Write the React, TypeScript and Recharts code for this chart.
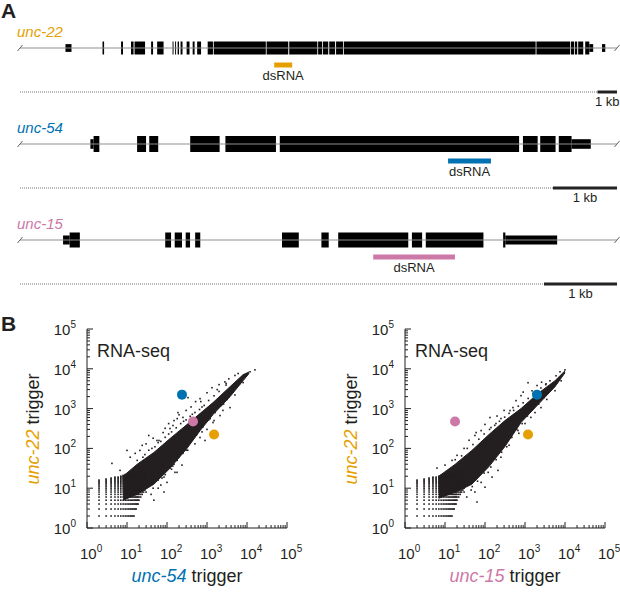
import React from "react";
import {
    ComposedChart,
    Scatter,
    Area,
    XAxis,
    YAxis,
    ReferenceArea,
    ReferenceLine,
    ReferenceDot,
} from "recharts";

const FONT = '"Liberation Sans", Arial, Helvetica, sans-serif';
const ORANGE = "#E69F00";
const BLUE = "#0072B2";
const PINK = "#CC79A7";
const INK = "#231F20";

// ---- panel A: gene models, kb from the left end of each drawn locus ----
// [start, end, coding (1) or UTR (0)]
const unc22Exons: [number, number, number][] = [
    [2.33, 2.64, 0], [4.23, 4.31, 1], [5.18, 5.28, 1], [5.69, 5.82, 1],
    [5.87, 6.41, 1], [6.72, 6.82, 1], [7.03, 7.36, 1], [7.82, 7.87, 1],
    [7.95, 8.0, 1], [8.08, 8.15, 1], [8.23, 8.33, 1], [8.54, 8.69, 1],
    [8.85, 8.95, 1], [9.08, 9.28, 1], [9.62, 9.89, 1], [9.93, 12.6, 1],
    [12.64, 13.75, 1], [13.8, 15.24, 1], [15.28, 15.48, 1], [15.52, 15.8, 1],
    [15.85, 16.15, 1], [16.2, 16.56, 1], [16.6, 26.43, 1], [26.47, 28.2, 1],
    [28.24, 28.4, 1], [28.44, 28.56, 1], [28.61, 28.87, 1], [28.97, 29.18, 1],
    [29.18, 29.38, 0], [29.83, 30.0, 0],
];
const unc22Length = 30.6;
const unc22Dsrna = [13.03, 13.95];
const unc22Scale = [29.6, 30.6];

const unc54Exons: [number, number, number][] = [
    [1.1, 1.15, 0], [1.15, 1.24, 1], [1.83, 1.97, 1], [2.02, 2.16, 1],
    [2.66, 3.12, 1], [3.21, 4.0, 1], [4.06, 7.8, 1], [7.86, 8.09, 1],
    [8.13, 8.37, 1], [8.42, 8.62, 1], [8.62, 8.92, 0],
];
const unc54Length = 9.33;
const unc54Dsrna = [6.69, 7.36];
const unc54Scale = [8.33, 9.33];

const unc15Exons: [number, number, number][] = [
    [0.59, 0.68, 0], [0.68, 0.82, 1], [1.99, 2.07, 1], [2.12, 2.22, 1],
    [2.27, 2.33, 1], [2.4, 2.47, 1], [3.59, 3.82, 1], [4.13, 4.23, 1],
    [4.36, 5.32, 1], [5.37, 5.51, 1], [5.56, 6.35, 1], [6.62, 6.65, 1],
    [6.65, 7.36, 0],
];
const unc15Length = 8.18;
const unc15Dsrna = [4.84, 5.96];
const unc15Scale = [7.18, 8.18];

// ---- panel B: read counts ----
// integer-count lattice at low expression: [x, lowest y, highest y]
const latticeCols = [
    [2, 2, 16], [3, 2, 17], [4, 2, 18], [5, 2, 19], [6, 2, 19], [7, 2, 20],
    [8, 2, 21], [9, 2, 22], [10, 2, 22], [11, 2, 22], [12, 2, 23], [13, 2, 23],
    [14, 2, 23], [15, 2, 24], [16, 3, 24], [17, 3, 24], [18, 4, 25], [19, 4, 25],
    [20, 5, 25], [22, 6, 26], [24, 7, 26], [26, 8, 26], [28, 9, 26], [30, 10, 26],
];

// dense core of the cloud
const leftCoreX = [8, 18, 47, 120, 316, 676, 1413, 3760, 7943, 11220];
const leftCoreLow = [5, 7, 12.6, 32, 100, 282, 708, 1995, 5012, 7586];
const leftCoreHigh = [20, 40, 79, 178, 398, 759, 1413, 3548, 7079, 8318];

const rightCoreX = [7, 18, 47, 126, 316, 794, 2113, 5623, 10000];
const rightCoreLow = [5.6, 7.9, 12.6, 35, 112, 447, 1259, 3548, 7943];
const rightCoreHigh = [20, 40, 89, 224, 501, 1000, 2399, 5012, 8913];

// scattered genes outside the core [x, y]
const leftOutliers = [
    [15800, 9400], [11900, 8400], [7900, 6300], [9200, 7000], [2800, 4700],
    [1330, 3350], [670, 1780], [335, 1885], [188, 794], [141, 376], [119, 316],
    [56, 158], [42, 100], [21, 89], [12, 60], [10, 89], [4.2, 42], [6.7, 28],
    [16, 75], [24, 119], [35, 211], [63, 158], [200, 700], [300, 900], [90, 320],
    [150, 500], [250, 600], [400, 1100], [520, 1500], [1000, 2500], [2000, 4000],
    [3500, 5600], [5000, 6800], [80, 250], [30, 130], [180, 560], [1800, 3000],
    [700, 1500], [110, 420], [45, 180], [3000, 4300], [6000, 7600],
    [18, 50], [25, 60], [35, 90], [50, 110], [70, 150], [90, 190], [130, 260],
    [170, 330], [220, 420], [300, 520], [380, 640], [500, 800], [650, 950],
    [850, 1200], [1100, 1600], [1500, 2100], [2000, 2700], [3000, 3900],
    [28, 70], [60, 140], [110, 230], [260, 480], [430, 720], [750, 1100],
    [84, 19], [119, 32], [178, 25], [84, 8], [47, 5], [237, 38], [237, 158],
    [316, 237], [668, 188], [1413, 447], [2113, 668], [3760, 1060], [891, 158],
    [119, 50], [158, 25], [60, 10], [100, 14], [300, 90], [500, 130], [1000, 300],
    [1500, 500], [2500, 900], [5000, 2200], [8000, 4500], [40, 7], [70, 12],
    [150, 40], [200, 60], [400, 150], [750, 260], [1200, 560], [2600, 1300],
    [30, 8], [45, 10], [60, 16], [90, 22], [130, 30], [180, 50], [250, 75],
    [330, 90], [420, 160], [550, 220], [800, 350], [1100, 520], [1600, 800],
    [2300, 1200], [3200, 1700], [4500, 2600], [6500, 4200], [75, 18], [140, 36],
];
const rightOutliers = [
    [10000, 9400], [7500, 8400], [5960, 6680], [4200, 5000], [3350, 4200],
    [1190, 4470], [794, 2113], [596, 1585], [500, 1060], [422, 891], [251, 562],
    [188, 422], [141, 335], [133, 596], [6.3, 32], [10, 38], [20, 67], [56, 211],
    [30, 100], [80, 280], [100, 400], [300, 900], [2000, 3800], [1500, 2800],
    [40, 160], [15, 50], [60, 250], [200, 650], [900, 2600], [2600, 4600],
    [18, 52], [26, 65], [36, 100], [50, 125], [70, 170], [95, 230], [130, 300],
    [175, 380], [230, 480], [310, 610], [400, 760], [520, 900], [680, 1150],
    [900, 1400], [1200, 1800], [1600, 2400], [2500, 3300], [3300, 4000],
    [2512, 1060], [1778, 794], [5623, 2818], [1000, 422], [668, 282], [447, 188],
    [316, 133], [35, 6], [56, 8], [63, 4.5], [100, 10.6], [150, 19], [211, 28],
    [80, 14], [120, 25], [250, 60], [400, 120], [3500, 1700], [8000, 5000],
    [45, 9], [700, 240], [1400, 600],
    [30, 8], [48, 11], [65, 15], [95, 24], [140, 34], [190, 52], [260, 80],
    [350, 110], [470, 190], [620, 300], [850, 420], [1150, 650], [1600, 1000],
    [2200, 1300], [3000, 1900], [4300, 3000], [6200, 4500],
];

// highlighted genes: x = trigger on the horizontal axis, y = unc-22 trigger
const leftUnc22 = [{ x: 1500, y: 224 }];
const leftUnc54 = [{ x: 237, y: 2240 }];
const leftUnc15 = [{ x: 447, y: 473 }];
const rightUnc22 = [{ x: 1190, y: 224 }];
const rightUnc54 = [{ x: 2000, y: 2240 }];
const rightUnc15 = [{ x: 17.8, y: 473 }];

const MAJOR = [1, 10, 100, 1000, 10000, 100000];
const LOG_TICKS: number[] = [];
MAJOR.forEach((m, i) => {
    LOG_TICKS.push(m);
    if (i < MAJOR.length - 1) for (let k = 2; k < 10; k++) LOG_TICKS.push(k * m);
});

const latticePoints = latticeCols.flatMap(([x, lo, hi]) => {
    const pts = [];
    for (let y = lo; y <= hi; y++) pts.push({ x, y });
    return pts;
});

const toPoints = (list: number[][]) => list.map(([x, y]) => ({ x, y }));

const isMajor = (v: number) => MAJOR.includes(v);
const power = (v: number) => Math.round(Math.log10(v));

const TickLabel = (props: any) => (
    <text
        x={props.x}
        y={props.y}
        textAnchor={props.anchor}
        fontSize={15}
        fontFamily={FONT}
        fill={INK}
    >
        10
        <tspan dy={-7} fontSize={10}>
            {power(props.v)}
        </tspan>
    </text>
);

const BottomTick = ({ x, y, payload }: any) => (
    <g>
        <line x1={x} y1={y} x2={x} y2={y - (isMajor(payload.value) ? 6 : 3)} stroke={INK} />
        {isMajor(payload.value) && (
            <TickLabel x={x - 7} y={y + 31} anchor="start" v={payload.value} />
        )}
    </g>
);
const LeftTick = ({ x, y, payload }: any) => (
    <g>
        <line x1={x} y1={y} x2={x + (isMajor(payload.value) ? 6 : 3)} y2={y} stroke={INK} />
        {isMajor(payload.value) && (
            <TickLabel x={x - 11} y={y + 6} anchor="end" v={payload.value} />
        )}
    </g>
);
const TopTick = ({ x, y, payload }: any) => (
    <line x1={x} y1={y} x2={x} y2={y + (isMajor(payload.value) ? 6 : 3)} stroke={INK} />
);
const RightTick = ({ x, y, payload }: any) => (
    <line x1={x} y1={y} x2={x - (isMajor(payload.value) ? 6 : 3)} y2={y} stroke={INK} />
);

const Speck = ({ cx, cy }: any) => (
    <rect x={cx - 0.8} y={cy - 0.8} width={1.6} height={1.6} fill={INK} />
);
const bigDot = (color: string) => ({ cx, cy }: any) => (
    <circle cx={cx} cy={cy} r={5} fill={color} />
);

function ScatterPanel({ left, coreX, coreLow, coreHigh, outliers, u22, u54, u15, xName, xColor }: any) {
    const core = coreX.map((x: number, i: number) => ({ x, band: [coreLow[i], coreHigh[i]] }));
    return (
        <div style={{ position: "absolute", left, top: 310, width: 300, height: 283 }}>
            <ComposedChart
                width={300}
                height={270}
                data={core}
                margin={{ top: 19, right: 13, bottom: 22, left: 27 }}
                style={{ overflow: "visible" }}
            >
                <XAxis
                    xAxisId="b"
                    dataKey="x"
                    type="number"
                    scale="log"
                    domain={[1, 100000]}
                    ticks={LOG_TICKS}
                    interval={0}
                    tick={<BottomTick />}
                    tickLine={false}
                    tickSize={0}
                    tickMargin={0}
                    height={30}
                    axisLine={{ stroke: INK }}
                    allowDataOverflow
                />
                <XAxis
                    xAxisId="t"
                    orientation="top"
                    type="number"
                    scale="log"
                    domain={[1, 100000]}
                    ticks={LOG_TICKS}
                    interval={0}
                    tick={<TopTick />}
                    tickLine={false}
                    tickSize={0}
                    tickMargin={0}
                    height={0}
                    axisLine={{ stroke: INK }}
                    allowDataOverflow
                />
                <YAxis
                    yAxisId="l"
                    dataKey="y"
                    type="number"
                    scale="log"
                    domain={[1, 100000]}
                    ticks={LOG_TICKS}
                    interval={0}
                    tick={<LeftTick />}
                    tickLine={false}
                    tickSize={0}
                    tickMargin={0}
                    width={60}
                    axisLine={{ stroke: INK }}
                    allowDataOverflow
                />
                <YAxis
                    yAxisId="r"
                    orientation="right"
                    type="number"
                    scale="log"
                    domain={[1, 100000]}
                    ticks={LOG_TICKS}
                    interval={0}
                    tick={<RightTick />}
                    tickLine={false}
                    tickSize={0}
                    tickMargin={0}
                    width={0}
                    axisLine={{ stroke: INK }}
                    allowDataOverflow
                />
                <Scatter xAxisId="b" yAxisId="l" data={latticePoints} shape={<Speck />} isAnimationActive={false} />
                <Area
                    xAxisId="b"
                    yAxisId="l"
                    dataKey="band"
                    type="linear"
                    fill={INK}
                    fillOpacity={1}
                    stroke={INK}
                    strokeWidth={1}
                    dot={false}
                    activeDot={false}
                    isAnimationActive={false}
                />
                <Scatter xAxisId="b" yAxisId="l" data={toPoints(outliers)} shape={<Speck />} isAnimationActive={false} />
                <Scatter xAxisId="b" yAxisId="l" data={u15} shape={bigDot(PINK)} isAnimationActive={false} />
                <Scatter xAxisId="b" yAxisId="l" data={u22} shape={bigDot(ORANGE)} isAnimationActive={false} />
                <Scatter xAxisId="b" yAxisId="l" data={u54} shape={bigDot(BLUE)} isAnimationActive={false} />
            </ComposedChart>
            <div style={{ position: "absolute", left: 97, top: 31, fontSize: 18, lineHeight: "20px" }}>RNA-seq</div>
            <div
                style={{
                    position: "absolute",
                    left: 87,
                    top: 256,
                    width: 200,
                    textAlign: "center",
                    fontSize: 18,
                    lineHeight: "20px",
                }}
            >
                <i style={{ color: xColor }}>{xName}</i> trigger
            </div>
            <div
                style={{
                    position: "absolute",
                    left: -67,
                    top: 108.5,
                    width: 200,
                    height: 20,
                    textAlign: "center",
                    fontSize: 18,
                    lineHeight: "20px",
                    transform: "rotate(-90deg)",
                }}
            >
                <i style={{ color: ORANGE }}>unc-22</i> trigger
            </div>
        </div>
    );
}

const Slash = ({ cx, cy }: any) => (
    <line x1={cx - 2.5} y1={cy + 3} x2={cx + 2.5} y2={cy - 3} stroke="#666" strokeWidth={1} />
);

function GeneTrack({ top, name, color, exons, length, dsrna, scale, exonH }: any) {
    const rows = exons.map(([s]: number[]) => ({ x: s, y: 0 }));
    return (
        <div style={{ position: "absolute", left: 0, top, width: 620, height: 80 }}>
            <ComposedChart width={620} height={80} data={rows} margin={{ top: 0, right: 3, bottom: 0, left: 20 }}>
                <XAxis dataKey="x" type="number" domain={[0, length]} hide allowDataOverflow />
                <YAxis dataKey="y" type="number" domain={[-60, 20]} hide allowDataOverflow />
                <Scatter data={rows} shape={() => null} isAnimationActive={false} />
                <ReferenceLine segment={[{ x: 0, y: 0 }, { x: length, y: 0 }]} stroke="#8f8f8f" />
                {exons.map(([s, e, coding]: number[], i: number) => {
                    const h = coding ? exonH / 2 : exonH * 0.3;
                    return (
                        <ReferenceArea
                            key={i}
                            x1={s}
                            x2={e}
                            y1={-h}
                            y2={h}
                            fill="#000"
                            fillOpacity={1}
                            stroke="none"
                        />
                    );
                })}
                <ReferenceArea
                    x1={dsrna[0]}
                    x2={dsrna[1]}
                    y1={-19.5}
                    y2={-14.5}
                    fill={color}
                    fillOpacity={1}
                    stroke="none"
                    label={{ value: "dsRNA", position: "bottom", offset: 3, fontSize: 13, fontFamily: FONT, fill: INK }}
                />
                <ReferenceLine
                    segment={[{ x: 0, y: -44 }, { x: scale[0], y: -44 }]}
                    stroke="#777"
                    strokeDasharray="1 1"
                />
                <ReferenceArea
                    x1={scale[0]}
                    x2={scale[1]}
                    y1={-45.5}
                    y2={-42.5}
                    fill="#222"
                    fillOpacity={1}
                    stroke="none"
                    label={{ value: "1 kb", position: "bottom", offset: 3, fontSize: 13, fontFamily: FONT, fill: INK }}
                />
                <ReferenceDot x={0} y={0} shape={<Slash />} ifOverflow="visible" />
                <ReferenceDot x={length} y={0} shape={<Slash />} ifOverflow="visible" />
            </ComposedChart>
            <div
                style={{
                    position: "absolute",
                    left: 17,
                    top: -5,
                    fontSize: 15,
                    lineHeight: "17px",
                    fontStyle: "italic",
                    color,
                }}
            >
                {name}
            </div>
        </div>
    );
}

export default function App() {
    return (
        <div
            style={{
                position: "absolute",
                left: 0,
                top: 0,
                width: 620,
                height: 593,
                background: "#fff",
                fontFamily: FONT,
                color: INK,
                overflow: "hidden",
            }}
        >
            <style>{"svg.recharts-surface { overflow: visible; }"}</style>
            <div style={{ position: "absolute", left: 1, top: -1, fontSize: 21, fontWeight: "bold" }}>A</div>
            <div style={{ position: "absolute", left: 1, top: 312, fontSize: 21, fontWeight: "bold" }}>B</div>

            <GeneTrack top={27.5} name="unc-22" color={ORANGE} exons={unc22Exons} length={unc22Length} dsrna={unc22Dsrna} scale={unc22Scale} exonH={13} />
            <GeneTrack top={124} name="unc-54" color={BLUE} exons={unc54Exons} length={unc54Length} dsrna={unc54Dsrna} scale={unc54Scale} exonH={16} />
            <GeneTrack top={220} name="unc-15" color={PINK} exons={unc15Exons} length={unc15Length} dsrna={unc15Dsrna} scale={unc15Scale} exonH={15} />

            <ScatterPanel
                left={0}
                coreX={leftCoreX}
                coreLow={leftCoreLow}
                coreHigh={leftCoreHigh}
                outliers={leftOutliers}
                u22={leftUnc22}
                u54={leftUnc54}
                u15={leftUnc15}
                xName="unc-54"
                xColor={BLUE}
            />
            <ScatterPanel
                left={318}
                coreX={rightCoreX}
                coreLow={rightCoreLow}
                coreHigh={rightCoreHigh}
                outliers={rightOutliers}
                u22={rightUnc22}
                u54={rightUnc54}
                u15={rightUnc15}
                xName="unc-15"
                xColor={PINK}
            />
        </div>
    );
}
